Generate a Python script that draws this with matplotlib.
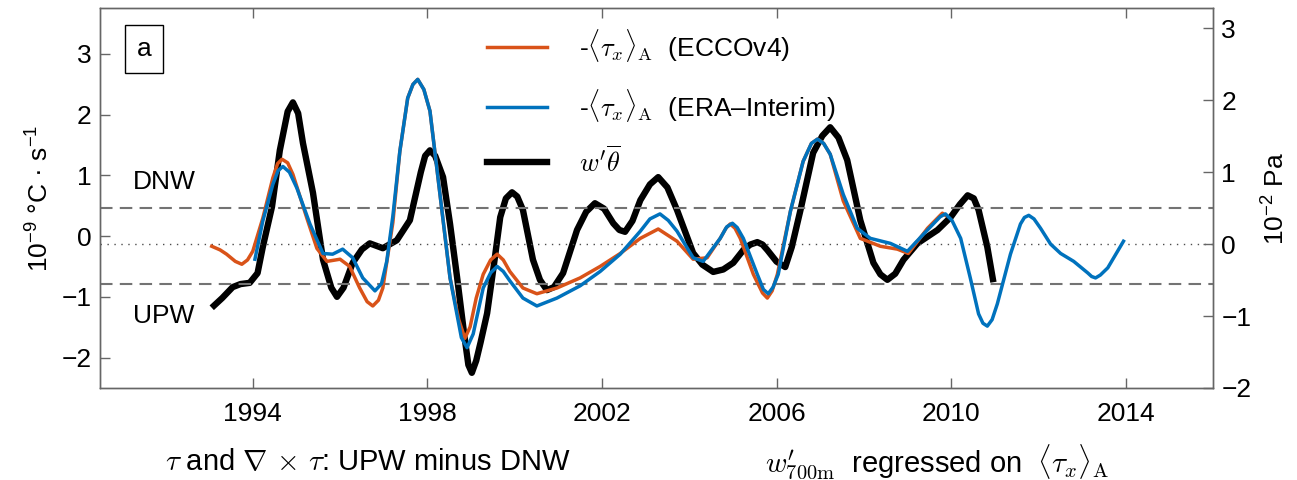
import matplotlib
matplotlib.use("Agg")
import matplotlib.pyplot as plt
from matplotlib.lines import Line2D

plt.rcParams['font.family'] = ['Liberation Sans', 'DejaVu Sans']
plt.rcParams['mathtext.fontset'] = 'cm'
plt.rcParams['axes.unicode_minus'] = True

# w'theta (left axis, 1e-9 degC/s)
black_t = [1993.06, 1993.30, 1993.54, 1993.72, 1993.93, 1994.11, 1994.23, 1994.44, 1994.62,
           1994.80, 1994.92, 1995.04, 1995.15, 1995.38, 1995.61, 1995.80, 1995.93, 1996.08,
           1996.29, 1996.50, 1996.68, 1996.98, 1997.30, 1997.60, 1997.85, 1997.95, 1998.06,
           1998.18, 1998.36, 1998.52, 1998.68, 1998.85, 1998.94, 1999.02, 1999.12, 1999.22,
           1999.37, 1999.52, 1999.67, 1999.80, 1999.94, 2000.06, 2000.19, 2000.42, 2000.58,
           2000.74, 2000.90, 2001.11, 2001.43, 2001.64, 2001.84, 2002.05, 2002.26, 2002.40,
           2002.53, 2002.70, 2002.88, 2003.10, 2003.29, 2003.50, 2003.72, 2004.09, 2004.30,
           2004.55, 2004.78, 2005.01, 2005.24, 2005.40, 2005.56, 2005.68, 2005.79, 2006.00,
           2006.20, 2006.35, 2006.55, 2006.84, 2007.05, 2007.23, 2007.42, 2007.62, 2007.92,
           2008.22, 2008.38, 2008.54, 2008.72, 2008.91, 2009.23, 2009.69, 2009.99, 2010.20,
           2010.38, 2010.52, 2010.63, 2010.83, 2010.97]
black_v = [-1.18, -1.02, -0.84, -0.79, -0.77, -0.61, -0.18, 0.48, 1.41,
           2.05, 2.20, 2.02, 1.53, 0.71, -0.39, -0.85, -1.00, -0.85,
           -0.44, -0.22, -0.12, -0.20, -0.07, 0.26, 1.05, 1.32, 1.41,
           1.32, 0.97, 0.20, -0.67, -1.65, -2.12, -2.25, -2.05, -1.75,
           -1.27, -0.50, 0.31, 0.62, 0.72, 0.65, 0.43, -0.39, -0.72,
           -0.89, -0.84, -0.61, 0.10, 0.40, 0.54, 0.45, 0.21, 0.10,
           0.07, 0.25, 0.59, 0.85, 0.97, 0.80, 0.43, -0.28, -0.47,
           -0.59, -0.55, -0.44, -0.23, -0.14, -0.10, -0.14, -0.23, -0.42,
           -0.51, -0.18, 0.43, 1.37, 1.65, 1.79, 1.62, 1.25, 0.26,
           -0.44, -0.63, -0.72, -0.62, -0.39, -0.12, 0.10, 0.31, 0.52,
           0.67, 0.62, 0.43, -0.18, -0.76]

# -<tau_x>_A ECCOv4 (right axis, 1e-2 Pa)
ecco_t = [1993.06, 1993.25, 1993.40, 1993.60, 1993.75, 1993.88, 1994.00, 1994.23, 1994.46,
          1994.57, 1994.67, 1994.80, 1994.92, 1995.24, 1995.47, 1995.70, 1996.00, 1996.22,
          1996.45, 1996.62, 1996.75, 1996.88, 1996.98, 1997.21, 1997.37, 1997.55, 1997.67,
          1997.78, 1997.92, 1998.06, 1998.29, 1998.52, 1998.72, 1998.86, 1998.98, 1999.12,
          1999.28, 1999.45, 1999.60, 1999.74, 1999.89, 2000.19, 2000.51, 2000.97, 2001.50,
          2001.96, 2002.42, 2002.88, 2003.29, 2003.72, 2004.09, 2004.41, 2004.71, 2004.84,
          2004.94, 2005.05, 2005.17, 2005.47, 2005.68, 2005.79, 2005.90, 2006.02, 2006.32,
          2006.61, 2006.80, 2006.94, 2007.08, 2007.23, 2007.53, 2007.92, 2008.38, 2008.77,
          2009.02, 2009.46, 2009.80, 2009.87]
ecco_v = [-0.03, -0.08, -0.14, -0.24, -0.28, -0.22, -0.10, 0.36, 0.92,
          1.12, 1.18, 1.13, 0.97, 0.36, -0.06, -0.24, -0.21, -0.31,
          -0.61, -0.80, -0.86, -0.78, -0.61, 0.30, 1.29, 2.03, 2.22,
          2.29, 2.15, 1.85, 0.69, -0.47, -1.05, -1.31, -1.15, -0.75,
          -0.42, -0.22, -0.14, -0.22, -0.38, -0.61, -0.69, -0.61, -0.47,
          -0.31, -0.13, 0.08, 0.21, 0.04, -0.21, -0.19, 0.08, 0.22,
          0.28, 0.22, 0.08, -0.42, -0.68, -0.75, -0.65, -0.42, 0.46,
          1.15, 1.40, 1.46, 1.40, 1.25, 0.60, 0.08, -0.03, -0.07,
          -0.13, 0.22, 0.43, 0.40]

# -<tau_x>_A ERA-Interim (right axis, 1e-2 Pa)
era_t = [1994.05, 1994.23, 1994.46, 1994.58, 1994.69, 1994.84, 1995.01, 1995.31, 1995.61,
         1995.83, 1996.06, 1996.29, 1996.52, 1996.80, 1996.95, 1997.07, 1997.21, 1997.37,
         1997.55, 1997.67, 1997.78, 1997.92, 1998.06, 1998.29, 1998.52, 1998.78, 1998.91,
         1999.05, 1999.28, 1999.45, 1999.60, 1999.74, 1999.89, 2000.19, 2000.51, 2000.97,
         2001.50, 2001.96, 2002.42, 2002.88, 2003.10, 2003.33, 2003.52, 2003.72, 2004.09,
         2004.32, 2004.71, 2004.86, 2004.99, 2005.10, 2005.24, 2005.56, 2005.70, 2005.81,
         2005.92, 2006.04, 2006.32, 2006.61, 2006.80, 2006.94, 2007.08, 2007.23, 2007.53,
         2007.85, 2008.15, 2008.61, 2009.00, 2009.37, 2009.75, 2009.87, 2010.02, 2010.22,
         2010.44, 2010.63, 2010.73, 2010.83, 2010.94, 2011.06, 2011.36, 2011.59, 2011.68,
         2011.78, 2011.90, 2012.05, 2012.28, 2012.51, 2012.81, 2013.13, 2013.22, 2013.31,
         2013.42, 2013.59, 2013.95]
era_v = [-0.21, 0.32, 0.83, 1.02, 1.08, 1.00, 0.78, 0.28, -0.13,
         -0.14, -0.07, -0.19, -0.47, -0.65, -0.55, -0.24, 0.39, 1.29,
         2.03, 2.22, 2.29, 2.15, 1.85, 0.69, -0.47, -1.30, -1.44,
         -1.25, -0.61, -0.40, -0.31, -0.38, -0.51, -0.75, -0.86, -0.75,
         -0.58, -0.38, -0.14, 0.18, 0.35, 0.42, 0.33, 0.18, -0.19,
         -0.24, 0.08, 0.24, 0.29, 0.23, 0.08, -0.42, -0.63, -0.69,
         -0.60, -0.42, 0.46, 1.15, 1.40, 1.46, 1.40, 1.25, 0.69,
         0.22, 0.08, 0.01, -0.10, 0.14, 0.38, 0.42, 0.33, 0.08,
         -0.47, -0.97, -1.10, -1.14, -1.05, -0.83, -0.14, 0.28, 0.37,
         0.40, 0.35, 0.22, 0.00, -0.13, -0.24, -0.40, -0.45, -0.47,
         -0.43, -0.33, 0.04]

xticks = [1994, 1998, 2002, 2006, 2010, 2014]
left_ticks = [-2, -1, 0, 1, 2, 3]
right_ticks = [-2, -1, 0, 1, 2, 3]
thresholds = [0.5, -0.55]

FS = 19
spine_c = '0.4'

fig = plt.figure(figsize=(12.97, 4.8), dpi=100)
ax = fig.add_axes([0.0771, 0.1917, 0.8581, 0.7913])
ax2 = ax.twinx()

ax.set_xlim(1990.5, 2016.0)
ax.set_ylim(-2.5, 3.75)
ax2.set_ylim(-2.0, 3.28)

for y in thresholds:
    ax2.axhline(y, color='0.45', lw=1.5, linestyle=(0, (6, 3.5)), zorder=1)
ax2.axhline(0, color='0.3', lw=1.0, linestyle=(0, (1, 4)), zorder=1)

l_black, = ax.plot(black_t, black_v, color='black', lw=4.6, solid_joinstyle='round',
                   solid_capstyle='butt', zorder=3)
l_ecco, = ax2.plot(ecco_t, ecco_v, color='#D95319', lw=2.5, solid_joinstyle='round', zorder=3)
l_era, = ax2.plot(era_t, era_v, color='#0072BD', lw=2.5, solid_joinstyle='round', zorder=4)

ax.set_xticks(xticks)
ax.set_xticklabels([str(t) for t in xticks])
ax.set_yticks(left_ticks)
ax2.set_yticks(right_ticks)

ax.tick_params(axis='x', direction='in', top=True, bottom=True, length=7, width=1,
               color=spine_c, labelsize=FS, pad=10)
ax.tick_params(axis='y', direction='in', left=True, right=False, length=7, width=1,
               color=spine_c, labelsize=FS, pad=6)
ax2.tick_params(axis='y', direction='in', right=True, left=False, length=7, width=1,
                color=spine_c, labelsize=FS, pad=6)
for a in (ax, ax2):
    for s in a.spines.values():
        s.set_color(spine_c)
        s.set_linewidth(1.0)

ax.set_ylabel(r'$\mathregular{10^{-9}}$ °C · s$\mathregular{^{-1}}$', fontsize=FS, labelpad=6)
ax2.set_ylabel(r'$\mathregular{10^{-2}}$ Pa', fontsize=FS, labelpad=8)

ax.text(1991.26, 0.89, 'DNW', fontsize=FS, ha='left', va='center')
ax.text(1991.26, -1.32, 'UPW', fontsize=FS, ha='left', va='center')

ax.text(0.0395, 0.892, 'a', transform=ax.transAxes, fontsize=FS, ha='center', va='center',
        bbox=dict(boxstyle='square,pad=0.45', facecolor='white', edgecolor='black', lw=1))

handles = [l_ecco, l_era, Line2D([], [], color='black', lw=4.6)]
labels = [r'-$\langle\tau_x\rangle_{\mathrm{A}}$  (ECCOv4)',
          r'-$\langle\tau_x\rangle_{\mathrm{A}}$  (ERA–Interim)',
          r"$w^{\prime}\overline{\theta}$"]
leg = ax2.legend(handles, labels, loc='upper left', bbox_to_anchor=(0.338, 0.978),
                 frameon=False, fontsize=FS, handlelength=2.3, handletextpad=1.2,
                 labelspacing=0.85, borderaxespad=0.0)
leg.set_zorder(10)

FSB = 21
fig.text(0.127, 0.0375, r'$\tau$ and $\nabla\,\times\,\tau$: UPW minus DNW', fontsize=FSB,
         ha='left', va='center')
fig.text(0.590, 0.0375, r"$w^{\prime}_{700\mathrm{m}}$  regressed on  $\langle\tau_x\rangle_{\mathrm{A}}$",
         fontsize=FSB, ha='left', va='center')

fig.savefig('out.png', dpi=100)
